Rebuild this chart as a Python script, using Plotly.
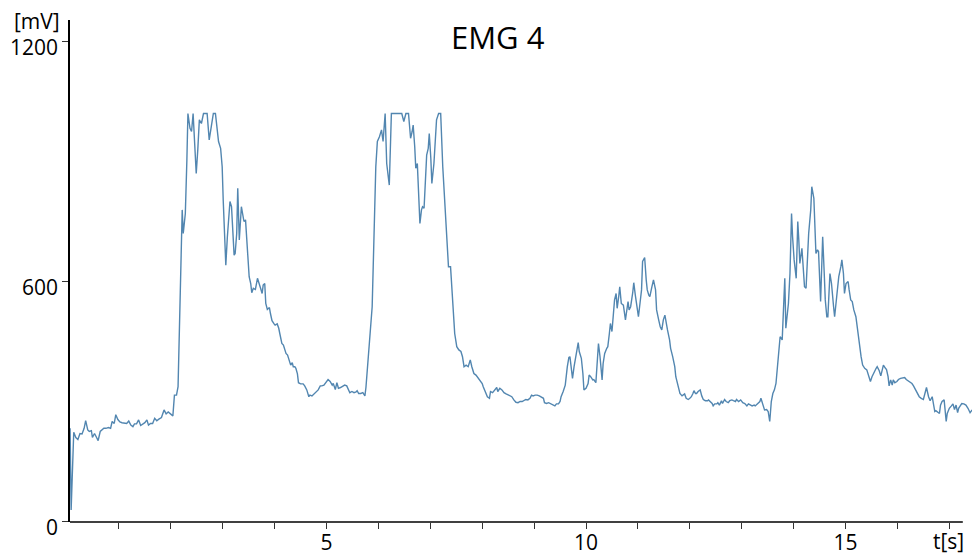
import plotly.graph_objects as go

# ---- data (time in s, EMG amplitude in mV) ----
t_seg1 = [0.06,0.08,0.13,0.17,0.21,0.25,0.29,0.33,0.36,0.40,0.43,0.47,0.49,0.53,0.57,0.60,0.64,0.67,0.71,0.75,
          0.80,0.84,0.87,0.91,0.94,0.98,1.02,1.06,1.11,1.15,1.19,1.23,1.27,1.30,1.34,1.38,1.42,1.46,1.50,1.54,
          1.57,1.61,1.65,1.69,1.73,1.77,1.82,1.87,1.91,1.95,1.98,2.04,2.07,2.11,2.14,2.16,2.19,2.22,2.24,2.28,
          2.31,2.33,2.37,2.40,2.43,2.46,2.49,2.52,2.55,2.59,2.63,2.70,2.74,2.78,2.82,2.86,2.90,2.92,2.96,2.99,
          3.01,3.04,3.06,3.09,3.12,3.14,3.17,3.19,3.22,3.24,3.27,3.29,3.32,3.36,3.38,3.41,3.44,3.46,3.49,3.51,
          3.54,3.56,3.59,3.63,3.67,3.69,3.73,3.76,3.78,3.81,3.83,3.86,3.90,3.92,3.95,3.99,4.01,4.05,4.08,4.10,
          4.14,4.17,4.19,4.22,4.25,4.28,4.31,4.34,4.36,4.39,4.41,4.44,4.46,4.50,4.53]
v_seg1 = [233,29,223,210,205,220,219,233,252,229,225,227,210,220,210,202,225,229,233,233,
          235,233,250,245,267,255,249,247,245,245,251,241,237,244,244,254,240,244,247,254,
          241,245,245,258,252,256,260,279,269,274,270,264,316,316,337,470,654,779,720,770,
          904,1020,983,975,1020,937,870,929,1004,995,1020,1020,954,987,1020,1020,970,950,933,887,
          804,687,641,712,770,800,787,737,666,670,720,833,704,787,770,750,754,720,662,612,
          595,572,583,580,608,597,583,570,591,595,545,530,535,520,502,494,491,494,483,470,
          445,441,433,420,416,404,391,397,387,387,383,369,347,344,345]

t_seg2 = [4.55,4.58,4.62,4.66,4.68,4.72,4.76,4.80,4.84,4.88,4.91,4.95,4.99,5.03,5.07,5.11,5.13,5.17,5.20,5.23,
          5.27,5.31,5.35,5.39,5.43,5.45,5.49,5.53,5.57,5.59,5.62,5.66,5.70,5.74,5.76,5.80,5.84,5.88,5.90,5.93,
          5.95,5.98,6.02,6.06,6.09,6.13,6.16,6.19,6.21,6.25,6.45,6.49,6.53,6.58,6.62,6.65,6.67,6.70,6.72,6.75,
          6.78,6.80,6.83,6.85,6.88,6.90,6.93,6.96,6.98,7.01,7.03,7.07,7.10,7.12,7.16,7.20,7.24,7.28,7.32,7.35,
          7.39,7.43,7.47,7.51,7.55,7.59,7.62,7.65,7.69,7.73,7.77,7.80,7.84,7.88,7.92,7.96,8.00,8.02,8.06,8.10,
          8.14,8.16,8.20,8.24,8.28,8.30,8.34,8.38,8.42,8.46,8.50,8.54,8.57,8.61,8.65,8.69,8.73,8.77,8.80,8.84,
          8.88,8.92]
v_seg2 = [344,339,329,312,316,314,319,325,329,339,339,341,347,355,350,341,345,330,347,333,
          335,339,341,339,330,322,325,322,324,327,320,320,322,314,335,404,470,537,637,787,
          887,950,962,979,950,1020,895,862,841,1020,1020,1000,1020,1020,958,975,991,937,883,895,
          804,745,779,787,783,829,916,933,970,908,845,895,962,1004,1020,1020,887,804,729,637,
          637,554,470,437,429,425,412,387,391,387,404,387,370,366,358,352,345,337,325,312,
          308,325,322,329,335,325,333,329,322,319,316,314,312,304,298,297,300,300,302,305,
          304,308]

t_seg3 = [8.95,8.98,9.02,9.06,9.10,9.14,9.18,9.20,9.24,9.28,9.32,9.36,9.40,9.43,9.47,9.50,9.52,9.56,9.60,9.64,
          9.67,9.69,9.72,9.74,9.77,9.79,9.82,9.85,9.87,9.91,9.94,9.96,10.00,10.04,10.06,10.09,10.13,10.15,10.19,10.22,
          10.24,10.27,10.31,10.33,10.36,10.40,10.42,10.45,10.47,10.50,10.53,10.55,10.58,10.60,10.63,10.65,10.68,10.72,10.76,10.78,
          10.81,10.83,10.86,10.90,10.92,10.95,10.98,11.01,11.04,11.07,11.09,11.13,11.16,11.18,11.21,11.23,11.27,11.30,11.34,11.36,
          11.40,11.43,11.46,11.49,11.52,11.54,11.57,11.61,11.63,11.67,11.71,11.73,11.77,11.81,11.85,11.87,11.90,11.93,11.97,12.00,
          12.03,12.06,12.08,12.11,12.13,12.16,12.20,12.23,12.26,12.30,12.34,12.36,12.39,12.43,12.45,12.48,12.52,12.54,12.57,12.61,
          12.63,12.67,12.70,12.74,12.77,12.81,12.84,12.88,12.90,12.94,12.98,13.02,13.06,13.10,13.13,13.16,13.20,13.24,13.26,13.30,
          13.35]
v_seg3 = [316,314,316,316,314,312,308,297,295,297,294,291,289,294,294,300,312,325,341,387,
          410,412,387,358,387,400,420,447,425,408,370,329,333,345,366,362,354,355,347,404,
          445,412,354,395,420,433,437,470,495,475,512,554,570,533,562,587,545,541,504,520,
          550,529,537,572,597,566,537,512,545,579,650,660,604,579,566,562,587,604,579,529,
          504,487,479,504,516,497,479,454,433,412,387,362,337,320,314,316,319,308,305,308,
          312,320,327,320,320,325,329,314,305,302,302,304,300,295,289,294,294,297,291,302,
          295,305,300,297,302,304,302,300,305,300,304,297,295,289,294,291,289,291,289,294,
          300]

t_seg4 = [13.37,13.39,13.42,13.44,13.48,13.51,13.54,13.57,13.60,13.63,13.66,13.69,13.71,13.74,13.78,13.80,13.83,13.85,13.88,13.90,
          13.93,13.96,13.98,14.01,14.05,14.07,14.08,14.10,14.12,14.16,14.19,14.21,14.24,14.26,14.29,14.33,14.35,14.39,14.43,14.46,
          14.48,14.52,14.55,14.56,14.59,14.61,14.64,14.66,14.70,14.73,14.77,14.79,14.83,14.87,14.91,14.93,14.96,14.98,15.01,15.05,
          15.07,15.10,15.13,15.16,15.20,15.23,15.25,15.28,15.30,15.33,15.37,15.41,15.43,15.46,15.48,15.51,15.55,15.59,15.61,15.65,
          15.68,15.70,15.73,15.77,15.79,15.82,15.84,15.87,15.90,15.92,15.95,15.99,16.02,16.06,16.10,16.14,16.17,16.20,16.24,16.28,
          16.31,16.35,16.38,16.42,16.46,16.50,16.54,16.56,16.60,16.63,16.67,16.69,16.72,16.74,16.78,16.81,16.83,16.86,16.90,16.94,
          16.96,17.00,17.04,17.07,17.10,17.13,17.16,17.18,17.21,17.24,17.28,17.32,17.36,17.40,17.44]
v_seg4 = [308,300,291,279,280,275,250,300,320,329,345,387,420,462,454,537,608,483,520,545,
          620,770,712,654,608,695,750,704,645,683,620,587,583,654,720,779,837,808,670,679,
          675,550,654,712,620,554,512,512,620,595,537,512,562,612,637,654,620,570,595,600,
          579,554,550,529,512,479,454,429,412,391,383,379,372,362,350,362,375,383,387,377,
          364,375,391,383,380,362,339,354,341,354,347,350,355,358,360,360,355,352,347,345,
          339,330,322,312,308,305,325,335,312,302,312,300,275,277,272,270,291,300,304,250,
          270,283,289,294,280,291,272,283,289,295,294,291,283,272,279]

y_ticks = [0, 600, 1200]
x_ticks = list(range(1, 18))
x_tick_labels = ["5" if v == 5 else "10" if v == 10 else "15" if v == 15 else "" for v in x_ticks]

segs = [(t_seg1, v_seg1), (t_seg2, v_seg2), (t_seg3, v_seg3), (t_seg4, v_seg4)]
for i, (a, b) in enumerate(segs):
    assert len(a) == len(b), f"segment {i+1}: {len(a)} times vs {len(b)} values"

time = t_seg1 + t_seg2 + t_seg3 + t_seg4
emg = v_seg1 + v_seg2 + v_seg3 + v_seg4

FONT = "Open Sans, DejaVu Sans, sans-serif"

fig = go.Figure()
fig.add_trace(go.Scatter(x=time, y=emg, mode="lines",
                         line=dict(color="#5286b0", width=1.4), showlegend=False,
                         hoverinfo="skip"))

fig.update_layout(
    width=972, height=553, autosize=False,
    template="none",
    paper_bgcolor="white", plot_bgcolor="white",
    margin=dict(l=70, r=0, t=20, b=31, pad=0),
    font=dict(family=FONT, size=20, color="black"),
    title=dict(text="EMG 4", x=0.512, xref="container", xanchor="center",
               y=0.931, yref="container", yanchor="middle",
               font=dict(family=FONT, size=31, color="black")),
    xaxis=dict(range=[0.058, 17.437], showgrid=False, zeroline=False,
               showline=False, tickmode="array", tickvals=x_ticks, ticktext=x_tick_labels,
               ticks="outside", ticklen=6, tickwidth=1, tickcolor="#333",
               ticklabelstandoff=-4,
               tickfont=dict(family=FONT, size=21, color="black"), automargin=False),
    yaxis=dict(range=[-1.25, 1253.75], showgrid=False, zeroline=False,
               showline=True, linecolor="black", linewidth=1.5,
               tickmode="array", tickvals=y_ticks, ticktext=[str(v) for v in y_ticks],
               ticks="outside", ticklen=6, tickwidth=1, tickcolor="#333",
               ticklabelshift=6,
               tickfont=dict(family=FONT, size=21, color="black"), automargin=False),
    shapes=[dict(type="line", xref="x", yref="paper", x0=0.058, x1=17.26, y0=0, y1=0,
                 line=dict(color="black", width=1.5))],
    annotations=[
        dict(text="[mV]", xref="paper", yref="paper", x=-0.0089, y=0.998,
             xanchor="right", yanchor="middle", showarrow=False,
             font=dict(family=FONT, size=21, color="black")),
        dict(text="t[s]", xref="paper", yref="paper", x=0.993, y=-0.038,
             xanchor="right", yanchor="middle", showarrow=False,
             font=dict(family=FONT, size=21, color="black")),
    ],
)

fig.write_html("out.html", config={"displayModeBar": False},
               post_script="document.body.style.margin='0';")
